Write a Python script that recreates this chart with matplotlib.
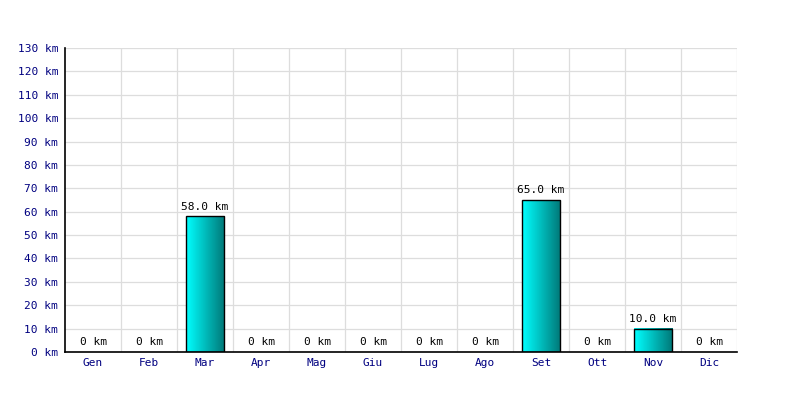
import numpy as np
import matplotlib.pyplot as plt
from matplotlib.colors import LinearSegmentedColormap

# dati mensili (km)
mesi = ['Gen', 'Feb', 'Mar', 'Apr', 'Mag', 'Giu', 'Lug', 'Ago', 'Set', 'Ott', 'Nov', 'Dic']
km = [0, 0, 58.0, 0, 0, 0, 0, 0, 65.0, 0, 10.0, 0]
y_ticks = list(range(0, 140, 10))

plt.rcParams['font.family'] = 'DejaVu Sans Mono'

fig = plt.figure(figsize=(8, 4), dpi=100)
ax = fig.add_axes([65 / 800, 48 / 400, 672 / 800, 304 / 400])

n = len(mesi)

# gradiente ciano -> verde acqua scuro
grad = LinearSegmentedColormap.from_list('g', ['#00ffff', '#007878'])
gimg = np.linspace(0, 1, 64).reshape(1, -1)
larg = 0.68

for i, v in enumerate(km):
    x0 = i + 0.5 - larg / 2
    if v > 0:
        ax.imshow(gimg, cmap=grad, aspect='auto', extent=(x0, x0 + larg, 0, v),
                  zorder=2, interpolation='bilinear')
        ax.bar(i + 0.5, v, width=larg, facecolor='none', edgecolor='black',
               linewidth=1, zorder=3)
        testo = f'{v:.1f} km'
    else:
        testo = '0 km'
    ax.annotate(testo, (i + 0.5, v), xytext=(0, 3.5), textcoords='offset points',
                ha='center', va='bottom', fontsize=8, color='black')

ax.set_xlim(0, n)
ax.set_ylim(0, 130)

# griglia
for b in range(1, n + 1):
    ax.axvline(b, color='#dddddd', linewidth=0.9, zorder=0)
ax.set_yticks(y_ticks)
ax.set_yticklabels([f'{t} km' for t in y_ticks])
ax.yaxis.grid(True, color='#dddddd', linewidth=0.9, zorder=0)
ax.set_axisbelow(True)

ax.set_xticks([i + 0.5 for i in range(n)])
ax.set_xticklabels(mesi)

ax.tick_params(length=0, labelsize=8, labelcolor='#000080')
ax.tick_params(axis='y', pad=5)
ax.tick_params(axis='x', pad=4)

for s in ['top', 'right']:
    ax.spines[s].set_visible(False)
for s in ['left', 'bottom']:
    ax.spines[s].set_color('black')
    ax.spines[s].set_linewidth(1.2)

fig.savefig('out.png', dpi=100)
